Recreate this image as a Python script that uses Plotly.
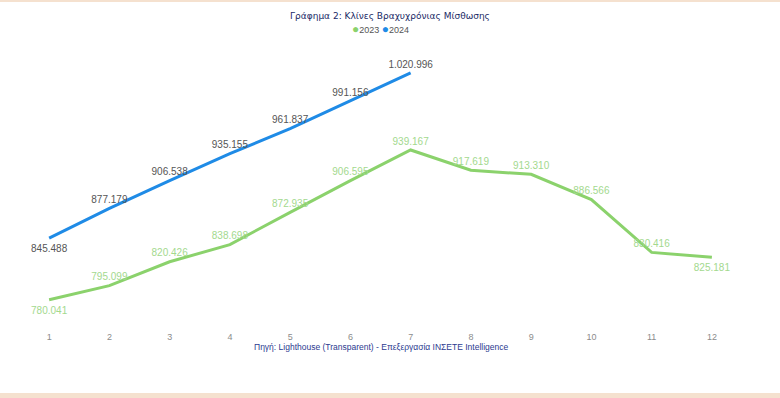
import plotly.graph_objects as go

months = [1, 2, 3, 4, 5, 6, 7, 8, 9, 10, 11, 12]
tick_labels = ["1", "2", "3", "4", "5", "6", "7", "8", "9", "10", "11", "12"]
values_2023 = [780041, 795099, 820426, 838698, 872935, 906595, 939167, 917619, 913310, 886566, 830416, 825181]
values_2024 = [845488, 877179, 906538, 935155, 961837, 991156, 1020996]
pos_2023 = ["bottom center"] + ["top center"] * 10 + ["bottom center"]
pos_2024 = ["bottom center"] + ["top center"] * 6

GREEN = "#8bd26c"
BLUE = "#1f8be6"


def pad_sizes(positions):
    # invisible markers only push labels off the line
    return [9 if p.startswith("bottom") else 3 for p in positions]


fig = go.Figure()
fig.add_trace(go.Scatter(
    x=months, y=values_2023, mode="lines+markers+text", name="2023",
    line=dict(color=GREEN, width=3),
    marker=dict(size=pad_sizes(pos_2023), color="rgba(0,0,0,0)",
                line=dict(width=0, color="rgba(0,0,0,0)")),
    text=values_2023, texttemplate="%{y:,.0f}", textposition=pos_2023,
    textfont=dict(family="Liberation Sans, Arial", size=10, color="#a3d98e"),
    showlegend=False, hoverinfo="skip"))
fig.add_trace(go.Scatter(
    x=months[:len(values_2024)], y=values_2024, mode="lines+markers+text", name="2024",
    line=dict(color=BLUE, width=3),
    marker=dict(size=pad_sizes(pos_2024), color="rgba(0,0,0,0)",
                line=dict(width=0, color="rgba(0,0,0,0)")),
    text=values_2024, texttemplate="%{y:,.0f}", textposition=pos_2024,
    textfont=dict(family="Liberation Sans, Arial", size=10, color="#555555"),
    showlegend=False, hoverinfo="skip"))

T, B = 55, 68
H = 398 - T - B

fig.update_layout(
    width=780, height=398,
    margin=dict(l=19, r=38, t=T, b=B, autoexpand=False),
    paper_bgcolor="white", plot_bgcolor="white",
    separators=",.",
    showlegend=False,
    font=dict(family="Liberation Sans, Arial", size=10, color="#555555"),
    title=dict(text="Γράφημα 2: Κλίνες Βραχυχρόνιας Μίσθωσης",
               x=0.5, xanchor="center", y=1 - 16 / 398, yanchor="middle",
               font=dict(family="DejaVu Sans, Verdana", size=9, color="#1a2a66")),
    xaxis=dict(range=[0.5, 12.5], tickvals=months, ticktext=tick_labels,
               showgrid=False, zeroline=False, showline=False, ticks="",
               tickfont=dict(size=9, color="#8c8c8c")),
    yaxis=dict(range=[748000, 1040000], visible=False, showgrid=False, zeroline=False),
)

# legend row (coloured dots + year labels)
legend_text = (f"<span style='color:{GREEN};font-size:12px'>●</span>2023 "
               f"<span style='color:{BLUE};font-size:12px'>●</span>2024")
fig.add_annotation(
    text=legend_text, xref="paper", yref="paper",
    x=(380 - 19) / 723, y=1 + (T - 29) / H, xanchor="center", yanchor="middle",
    showarrow=False, font=dict(family="Liberation Sans, Arial", size=9, color="#555555"))

fig.add_annotation(
    text="Πηγή: Lighthouse (Transparent) - Επεξεργασία INΣETE Intelligence",
    xref="paper", yref="paper", x=(381 - 19) / 723, y=-(347 - (T + H)) / H,
    xanchor="center", yanchor="middle",
    showarrow=False, font=dict(family="Liberation Sans, Arial", size=8.5, color="#2b3a8f"))

# beige frame strips
fig.add_shape(type="rect", xref="paper", yref="paper",
              x0=-0.05, x1=1.1, y0=1.0 + (T - 2) / H, y1=1.0 + (T + 5) / H,
              fillcolor="#f5e1cf", line=dict(width=0), layer="below")
fig.add_shape(type="rect", xref="paper", yref="paper",
              x0=-0.05, x1=1.1, y0=-(B + 5) / H, y1=-(B - 5) / H,
              fillcolor="#f5e1cf", line=dict(width=0), layer="below")

fig.write_html("out.html", config={"displayModeBar": False},
               post_script="document.body.style.margin='0';document.body.style.overflow='hidden';")
